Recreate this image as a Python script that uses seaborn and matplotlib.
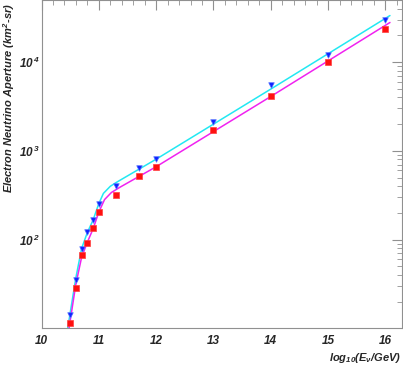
import numpy as np
import pandas as pd
import seaborn as sns
import matplotlib
matplotlib.use('Agg')
import matplotlib.pyplot as plt
from matplotlib.ticker import FixedLocator, LogLocator, FixedFormatter, NullFormatter, MultipleLocator

# simulated points (log10 E, aperture km^2 sr)
log_e = [10.5, 10.6, 10.7, 10.8, 10.9, 11.0, 11.3, 11.7, 12, 13, 14, 15, 16]
blue_pts = [14.0, 35.3, 77.6, 121, 166, 249, 402, 632, 811, 2128, 5546, 12130, 29640]
red_pts = [11.6, 28.4, 67, 92.5, 134, 207, 318, 521, 659, 1715, 4159, 9930, 23700]

# fitted curves
cyan_x = [10.457, 10.6, 10.7, 10.8, 10.9, 11.0, 11.08, 11.2, 11.31, 12.0, 14.0, 16.08]
cyan_y = [10, 37.2, 79.4, 120, 166, 254, 331, 398, 442, 804, 4955, 33400]
mag_x = [10.48, 10.6, 10.7, 10.8, 10.9, 11.0, 11.1, 11.22, 11.37, 12.0, 14.0, 16.08]
mag_y = [10, 31.6, 63.1, 93.3, 132, 204, 282, 339, 389, 661, 4090, 27900]

xticks = [10, 11, 12, 13, 14, 15, 16]
yticks = [1e2, 1e3, 1e4]
ytick_labels = ['$10^{\\,2}$', '$10^{\\,3}$', '$10^{\\,4}$']

sns.set_style('white')
plt.rcParams['font.family'] = ['Liberation Sans', 'DejaVu Sans']
plt.rcParams['font.weight'] = 'bold'
plt.rcParams['font.style'] = 'italic'
plt.rcParams['mathtext.fontset'] = 'custom'
plt.rcParams['mathtext.rm'] = 'Liberation Sans:italic:bold'
plt.rcParams['mathtext.it'] = 'Liberation Sans:italic:bold'
plt.rcParams['mathtext.bf'] = 'Liberation Sans:italic:bold'

fig = plt.figure(figsize=(4.03, 3.67), dpi=100)
ax = fig.add_axes([41.5/403, 1 - 328.3/367, (402 - 41.5)/403, 328.3/367])

pts = pd.DataFrame({'x': log_e, 'blue': blue_pts, 'red': red_pts})
sns.lineplot(x=cyan_x, y=cyan_y, color='#22e8f2', lw=1.1, ax=ax, zorder=2)
sns.lineplot(x=mag_x, y=mag_y, color='#f022f0', lw=1.1, ax=ax, zorder=2)
sns.scatterplot(data=pts, x='x', y='blue', marker='v', color='#1020ff', edgecolor='#5070ff',
                linewidth=0.5, s=16, ax=ax, zorder=3)
sns.scatterplot(data=pts, x='x', y='red', marker='s', color='#ff1010', edgecolor='#ff4040',
                linewidth=0.5, s=14, ax=ax, zorder=3)

ax.set_yscale('log')
ax.set_xlim(10, 16.29)
ax.set_ylim(10, 5e4)
ax.xaxis.set_major_locator(FixedLocator(xticks))
ax.xaxis.set_minor_locator(MultipleLocator(0.2))
ax.yaxis.set_major_locator(FixedLocator(yticks))
ax.yaxis.set_major_formatter(FixedFormatter(ytick_labels))
ax.yaxis.set_minor_locator(LogLocator(base=10, subs=np.arange(2, 10)))
ax.yaxis.set_minor_formatter(NullFormatter())
ax.set_xlabel('')
ax.set_ylabel('')

ax.tick_params(axis='both', which='both', direction='in', top=True, right=True,
               color='#909090', labelsize=8.5)
ax.tick_params(axis='both', which='major', length=7, width=0.8)
ax.tick_params(axis='both', which='minor', length=3.5, width=0.6)
ax.tick_params(axis='x', pad=4.5)
ax.tick_params(axis='y', pad=1.5)
for s in ax.spines.values():
    s.set_color('#909090')
    s.set_linewidth(0.8)

fig.text(0.997, 1 - 358/367, 'log$_{10}$(E$_{\\nu}$/GeV)', ha='right', va='center',
         fontsize=8, fontweight='bold', style='italic')
fig.text(9/403, 1 - 98/367, 'Electron Neutrino Aperture (km$^{2}$-sr)', rotation=90,
         ha='center', va='center', fontsize=8, fontweight='bold', style='italic')

fig.savefig('out.png', dpi=100)
